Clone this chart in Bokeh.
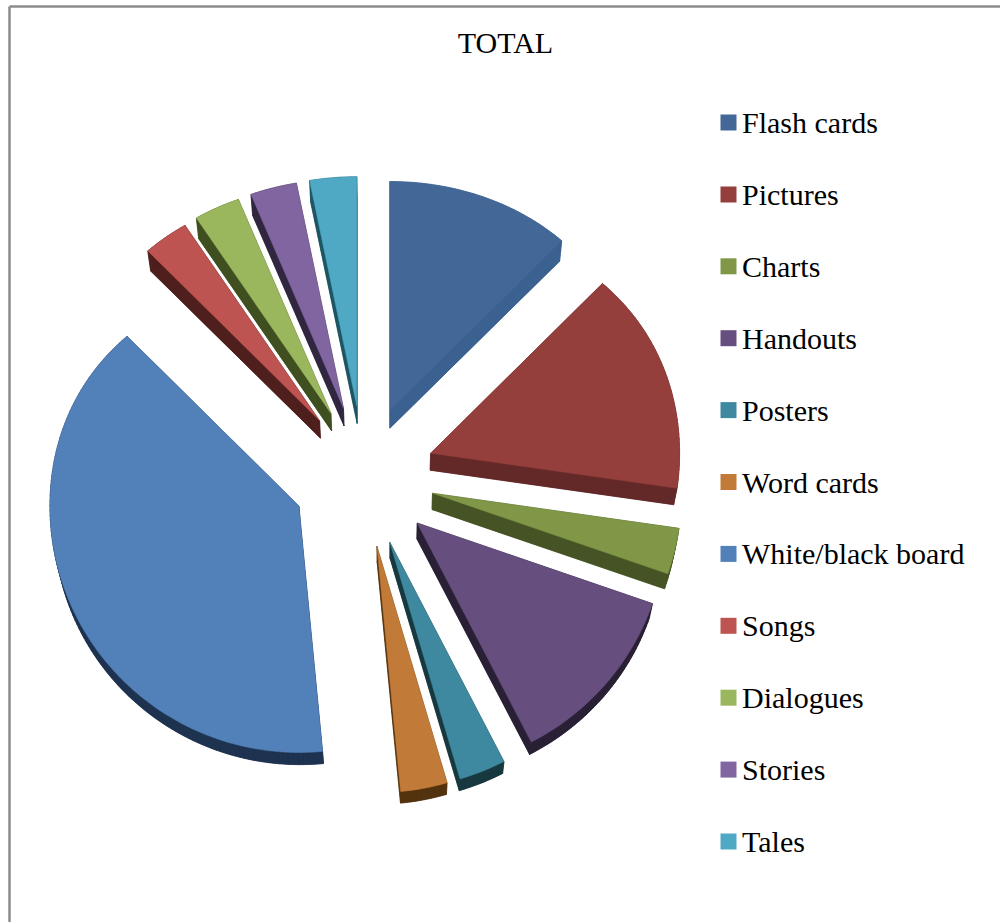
import math
from bokeh.core.properties import value
from bokeh.embed import file_html
from bokeh.models import Range1d
from bokeh.plotting import figure
from bokeh.resources import INLINE

# Chart content
title = "TOTAL"
categories = ["Flash cards", "Pictures", "Charts", "Handouts", "Posters", "Word cards",
              "White/black board", "Songs", "Dialogues", "Stories", "Tales"]
shares = [12, 15, 3, 12, 3, 3, 39, 3, 3, 3, 3]

# Top-face and side-face colours for each slice
top_colors = ["#436898", "#953f3d", "#7f9747", "#664f7e", "#3e899f", "#c27a38",
              "#5281b9", "#bd5451", "#9bb75d", "#8065a0", "#50a9c4"]
side_colors = ["#3b6190", "#632828", "#465425", "#2a2035", "#17383f", "#53320f",
               "#1e3350", "#4e1f1d", "#3f4f1f", "#30263f", "#1d5563"]

# Pie geometry, in page pixels
CENTER_X, CENTER_Y = 363, 476
RADIUS = 249
EXPLODE = 71
FAR_SQUASH = 0.08      # the far half of the disc recedes
NEAR_SQUASH = 0.99


def rim_offset(angle):
    """Offset from a slice's apex to its rim, angle clockwise from twelve o'clock."""
    c = math.cos(angle)
    factor = 1 - FAR_SQUASH * c if c > 0 else NEAR_SQUASH
    return RADIUS * math.sin(angle), -RADIUS * c * factor


def extrude(x, y):
    """Project a top-face point to the underside of the disc."""
    return x - (x - 390) * 0.012, y + 12 + (760 - y) * 0.016


p = figure(width=1000, height=922, output_backend="svg", toolbar_location=None,
           x_range=Range1d(0, 1000), y_range=Range1d(922, 0), min_border=0,
           background_fill_color="white", border_fill_color="white")
p.axis.visible = False
p.grid.visible = False
p.outline_line_color = None

# Chart frame; its right and bottom sides fall off the page
p.line([9, 9, 1010, 1010, 9], [6, 935, 935, 6, 6], line_color="#8c8c8c", line_width=2.5)

total = sum(shares)
start = 0.0
for share, top, side in zip(shares, top_colors, side_colors):
    span = 2 * math.pi * share / total
    end = start + span
    mid = (start + end) / 2
    ax = CENTER_X + EXPLODE * math.sin(mid)
    ay = CENTER_Y - EXPLODE * math.cos(mid)

    steps = max(4, int(span / 0.02))
    xs, ys = [ax], [ay]
    for i in range(steps + 1):
        dx, dy = rim_offset(start + span * i / steps)
        xs.append(ax + dx)
        ys.append(ay + dy)

    low = [extrude(x, y) for x, y in zip(xs, ys)]
    lx = [q[0] for q in low]
    ly = [q[1] for q in low]

    # Underside and walls first, the top face over them
    p.patch(lx, ly, fill_color=side, line_color=side, line_width=0.5)
    walls_x, walls_y = [], []
    n = len(xs)
    for i in range(n):
        j = (i + 1) % n
        walls_x.append([xs[i], xs[j], lx[j], lx[i]])
        walls_y.append([ys[i], ys[j], ly[j], ly[i]])
    p.patches(walls_x, walls_y, fill_color=side, line_color=side, line_width=0.5)
    p.patch(xs, ys, fill_color=top, line_color=top, line_width=0.5)
    start = end

# Title
p.text([505], [42], text=[title], text_font=value("Liberation Serif"), text_font_size="30px",
       text_align="center", text_baseline="middle", text_color="#000000")

# Legend
LEGEND_TOP, LEGEND_STEP = 122, 71.9
for i, (name, color) in enumerate(zip(categories, top_colors)):
    y = LEGEND_TOP + i * LEGEND_STEP
    p.quad(left=[720], right=[736], top=[y - 8], bottom=[y + 8], fill_color=color, line_color=None)
    p.text([741.5], [y], text=[name], text_font=value("Liberation Serif"), text_font_size="30px",
           text_align="left", text_baseline="middle", text_color="#000000")

open("out.html", "w").write(file_html(p, INLINE))
